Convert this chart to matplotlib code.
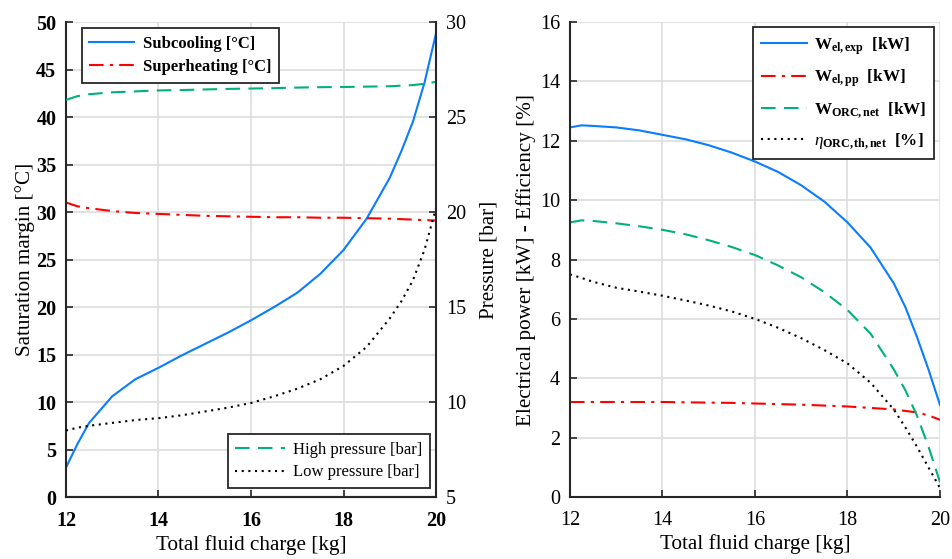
import matplotlib
matplotlib.use("Agg")
import matplotlib.pyplot as plt

plt.rcParams['font.family'] = ['Liberation Serif', 'DejaVu Serif']
plt.rcParams['mathtext.fontset'] = 'custom'
plt.rcParams['mathtext.rm'] = 'Liberation Serif'
plt.rcParams['mathtext.it'] = 'Liberation Serif:italic'
plt.rcParams['mathtext.bf'] = 'Liberation Serif:bold'

# ---------------- data ----------------
charge = [12.0, 12.25, 12.5, 13.0, 13.5, 14.0, 14.5, 15.0, 15.5, 16.0, 16.5, 17.0,
          17.5, 18.0, 18.5, 19.0, 19.25, 19.5, 19.75, 20.0]
subcooling = [3.1, 5.6, 7.8, 10.6, 12.4, 13.6, 14.9, 16.1, 17.3, 18.6, 20.0, 21.5,
              23.5, 26.0, 29.3, 33.6, 36.4, 39.5, 43.6, 48.8]
superheating = [31.0, 30.6, 30.4, 30.1, 29.9, 29.8, 29.7, 29.6, 29.55, 29.5, 29.45, 29.45,
                29.4, 29.4, 29.35, 29.3, 29.25, 29.2, 29.15, 29.1]
high_pressure = [25.9, 26.1, 26.2, 26.3, 26.35, 26.4, 26.42, 26.45, 26.48, 26.5, 26.52, 26.55,
                 26.57, 26.58, 26.6, 26.62, 26.65, 26.68, 26.75, 26.85]
low_pressure = [8.5, 8.65, 8.75, 8.9, 9.05, 9.15, 9.3, 9.5, 9.7, 9.95, 10.3, 10.7,
                11.2, 11.9, 12.9, 14.4, 15.3, 16.4, 18.0, 20.2]

w_el_exp = [12.45, 12.52, 12.5, 12.45, 12.35, 12.2, 12.05, 11.85, 11.6, 11.3, 10.95, 10.5,
            9.95, 9.25, 8.4, 7.2, 6.4, 5.4, 4.3, 3.1]
w_el_pp = [3.2, 3.2, 3.2, 3.2, 3.2, 3.2, 3.19, 3.18, 3.17, 3.15, 3.13, 3.11,
           3.08, 3.05, 3.0, 2.95, 2.9, 2.85, 2.75, 2.6]
w_orc_net = [9.25, 9.32, 9.3, 9.22, 9.12, 9.0, 8.85, 8.65, 8.42, 8.15, 7.8, 7.4,
             6.9, 6.3, 5.5, 4.3, 3.6, 2.75, 1.7, 0.5]
eta_orc = [7.5, 7.38, 7.25, 7.05, 6.92, 6.78, 6.62, 6.45, 6.25, 6.0, 5.7, 5.35,
           4.95, 4.5, 3.85, 2.95, 2.35, 1.7, 1.0, 0.3]

x_ticks = [12, 14, 16, 18, 20]
left_y_ticks = [0, 5, 10, 15, 20, 25, 30, 35, 40, 45, 50]
pressure_ticks = [5, 10, 15, 20, 25, 30]
right_y_ticks = [0, 2, 4, 6, 8, 10, 12, 14, 16]

# ---------------- style ----------------
BLUE = '#0a7cff'
RED = '#ff0000'
GREEN = '#00b07e'
BLACK = '#000000'
SPINE = '#262626'
GRID = '#dddddd'
FS = 15.2
TFS = 14.5
LFS = 12
LW = 1.5

fig = plt.figure(figsize=(9.52, 5.59), dpi=100)
ax1 = fig.add_axes([0.0693, 0.1109, 0.3887, 0.8497])
ax3 = fig.add_axes([0.5987, 0.1109, 0.3887, 0.8497])


def style(ax, spines_on):
    for s in ['left', 'right', 'top', 'bottom']:
        ax.spines[s].set_visible(s in spines_on)
        ax.spines[s].set_color(SPINE)
        ax.spines[s].set_linewidth(1.5)
    ax.tick_params(direction='in', length=5, width=1.2, colors=SPINE,
                   labelcolor='black', labelsize=TFS, pad=7)


def legend_style(leg):
    leg.get_frame().set_linewidth(1.3)
    leg.get_frame().set_edgecolor(SPINE)


# ---- left panel ----
ax1.plot(charge, subcooling, color=BLUE, lw=LW, label='Subcooling [°C]')
ax1.plot(charge, superheating, color=RED, lw=LW, dashes=(7, 3, 1.5, 3),
         label='Superheating [°C]')
ax1.set_xlim(12, 20)
ax1.set_ylim(0, 50)
ax1.set_xticks(x_ticks)
ax1.set_yticks(left_y_ticks)
ax1.grid(True, color=GRID, lw=1.2)
ax1.set_axisbelow(True)
style(ax1, ['left', 'bottom'])
ax1.tick_params(axis='x', pad=10)
for lab in ax1.get_yticklabels() + ax1.get_xticklabels():
    lab.set_fontweight('bold')
ax1.set_xlabel('Total fluid charge [kg]', fontsize=FS, labelpad=3)
ax1.set_ylabel('Saturation margin [°C]', fontsize=FS, labelpad=1)

ax2 = ax1.twinx()
ax2.plot(charge, high_pressure, color=GREEN, lw=LW, dashes=(7, 4),
         label='High pressure [bar]')
ax2.plot(charge, low_pressure, color=BLACK, lw=LW, dashes=(1, 2.2),
         label='Low pressure [bar]')
ax2.set_ylim(5, 30)
ax2.set_yticks(pressure_ticks)
style(ax2, ['right', 'bottom'])
ax2.set_ylabel('Pressure [bar]', fontsize=FS, labelpad=10)

h1, l1 = ax1.get_legend_handles_labels()
h2, l2 = ax2.get_legend_handles_labels()
leg1 = ax2.legend(h1, l1, loc='upper left', bbox_to_anchor=(0.043, 0.987),
                  borderaxespad=0, prop={'size': LFS, 'weight': 'bold'},
                  fancybox=False, framealpha=1, handlelength=2.7,
                  borderpad=0.45, labelspacing=0.45, handletextpad=0.5)
legend_style(leg1)
ax2.add_artist(leg1)
leg2 = ax2.legend(h2, l2, loc='lower right', bbox_to_anchor=(0.984, 0.019),
                  borderaxespad=0, prop={'size': LFS}, fancybox=False,
                  framealpha=1, handlelength=3.0, borderpad=0.45,
                  labelspacing=0.4, handletextpad=0.5)
legend_style(leg2)

# ---- right panel ----
ax3.plot(charge, w_el_exp, color=BLUE, lw=LW,
         label=r'$\mathbf{W}_{\mathbf{el,exp}}$  [kW]')
ax3.plot(charge, w_el_pp, color=RED, lw=LW, dashes=(7, 3, 1.5, 3),
         label=r'$\mathbf{W}_{\mathbf{el,pp}}$  [kW]')
ax3.plot(charge, w_orc_net, color=GREEN, lw=LW, dashes=(7, 4),
         label=r'$\mathbf{W}_{\mathbf{ORC,net}}$  [kW]')
ax3.plot(charge, eta_orc, color=BLACK, lw=LW, dashes=(1, 2.2),
         label=r'$\eta_{\mathbf{ORC,th,net}}$  [%]')
ax3.set_xlim(12, 20)
ax3.set_ylim(0, 16)
ax3.set_xticks(x_ticks)
ax3.set_yticks(right_y_ticks)
ax3.grid(True, color=GRID, lw=1.2)
ax3.set_axisbelow(True)
style(ax3, ['left', 'bottom'])
ax3.tick_params(axis='x', pad=10)
ax3.set_xlabel('Total fluid charge [kg]', fontsize=FS, labelpad=3)
ax3.set_ylabel('Electrical power [kW] - Efficiency [%]', fontsize=FS, labelpad=3)
leg3 = ax3.legend(loc='upper right', bbox_to_anchor=(0.984, 0.989),
                  borderaxespad=0, prop={'size': 12.3, 'weight': 'bold'},
                  fancybox=False, framealpha=1, handlelength=2.7,
                  borderpad=0.45, labelspacing=0.65, handletextpad=0.4)
legend_style(leg3)

fig.savefig('out.png', dpi=100)
